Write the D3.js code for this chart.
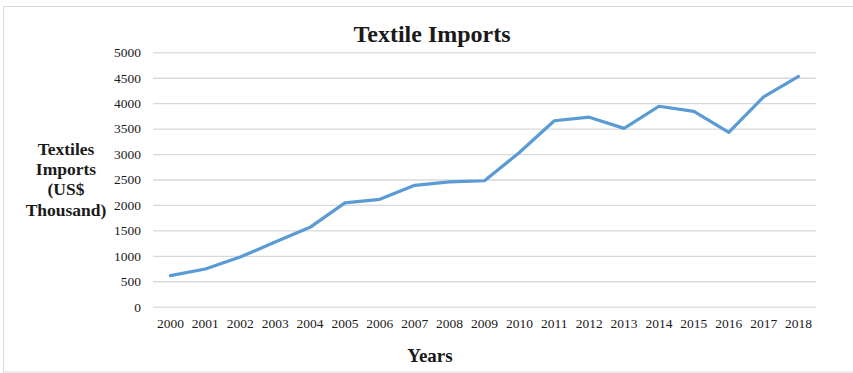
<!DOCTYPE html>
<html>
<head>
<meta charset="utf-8">
<script src="https://cdn.jsdelivr.net/npm/d3@7"></script>
<style>
  html, body { margin: 0; padding: 0; background: #fff; }
  svg { display: block; }
</style>
</head>
<body>
<svg id="chart" width="853" height="373"></svg>
<script>
const years = ["2000","2001","2002","2003","2004","2005","2006","2007","2008","2009",
               "2010","2011","2012","2013","2014","2015","2016","2017","2018"];
const imports = [610, 740, 975, 1270, 1560, 2040, 2110, 2385, 2455, 2475,
                 3030, 3655, 3725, 3505, 3940, 3840, 3425, 4125, 4525];
const yTicks = [0, 500, 1000, 1500, 2000, 2500, 3000, 3500, 4000, 4500, 5000];
const titleText = "Textile Imports";
const yTitleLines = ["Textiles", "Imports", "(US$", "Thousand)"];
const xTitleText = "Years";

const svg = d3.select("#chart");
const plot = { left: 153, right: 816, top: 52.3, bottom: 306.7 };
const serif = "'Liberation Serif', 'Times New Roman', Times, serif";

// outer frame
svg.append("rect")
  .attr("x", 3.5).attr("y", 6.5).attr("width", 900).attr("height", 365.5)
  .attr("fill", "none").attr("stroke", "#d9d9d9").attr("stroke-width", 1);

const x = d3.scaleBand().domain(years).range([plot.left, plot.right]).padding(0);
const y = d3.scaleLinear().domain([0, 5000]).range([plot.bottom, plot.top]);

const yAxis = d3.axisLeft(y).tickValues(yTicks).tickFormat(d3.format("d"))
  .tickSize(-(plot.right - plot.left)).tickPadding(12);
const gy = svg.append("g").attr("transform", `translate(${plot.left},0)`).call(yAxis);
gy.select(".domain").remove();
gy.selectAll(".tick line").attr("stroke", "#d9d9d9").attr("stroke-width", 1.3);
gy.selectAll(".tick text")
  .attr("font-family", serif).attr("font-size", 13.5).attr("fill", "#1a1a1a");

const xAxis = d3.axisBottom(x).tickSize(0).tickPadding(12);
const gx = svg.append("g").attr("transform", `translate(0,${plot.bottom})`).call(xAxis);
gx.select(".domain").remove();
gx.selectAll(".tick text")
  .attr("font-family", serif).attr("font-size", 13.5).attr("fill", "#1a1a1a");

const line = d3.line()
  .x((d, i) => x(years[i]) + x.bandwidth() / 2)
  .y(d => y(d));
svg.append("path")
  .datum(imports)
  .attr("d", line)
  .attr("fill", "none")
  .attr("stroke", "#5b9bd5")
  .attr("stroke-width", 3.2)
  .attr("stroke-linejoin", "round")
  .attr("stroke-linecap", "round");

svg.append("text")
  .attr("x", 432).attr("y", 42)
  .attr("text-anchor", "middle")
  .attr("font-family", serif).attr("font-weight", "bold").attr("font-size", 24)
  .attr("fill", "#1a1a1a")
  .text(titleText);

const yt = svg.append("text")
  .attr("text-anchor", "middle")
  .attr("font-family", serif).attr("font-weight", "bold").attr("font-size", 17.5)
  .attr("fill", "#1a1a1a");
yTitleLines.forEach((t, i) => {
  yt.append("tspan").attr("x", 66).attr("y", 155 + i * 20.2).text(t);
});

svg.append("text")
  .attr("x", 430).attr("y", 362)
  .attr("text-anchor", "middle")
  .attr("font-family", serif).attr("font-weight", "bold").attr("font-size", 19)
  .attr("fill", "#1a1a1a")
  .text(xTitleText);
</script>
</body>
</html>
